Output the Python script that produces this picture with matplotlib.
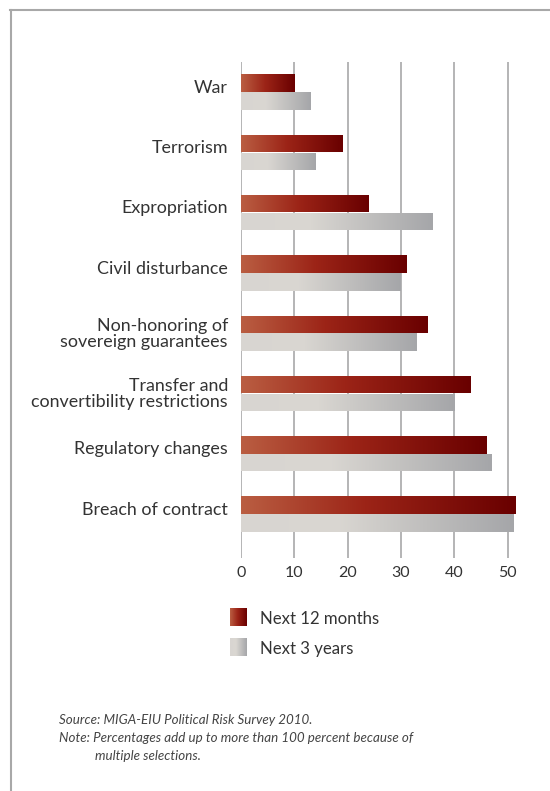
import numpy as np
import matplotlib
matplotlib.use("Agg")
import matplotlib.pyplot as plt
from matplotlib.colors import LinearSegmentedColormap
from matplotlib.lines import Line2D

categories = ["War", "Terrorism", "Expropriation", "Civil disturbance",
              "Non-honoring of\nsovereign guarantees",
              "Transfer and\nconvertibility restrictions",
              "Regulatory changes", "Breach of contract"]
next_12_months = [10, 19, 24, 31, 35, 43, 46, 51.5]
next_3_years = [13, 14, 36, 30, 33, 40, 47, 51.2]
series_names = ["Next 12 months", "Next 3 years"]
xticks = [0, 10, 20, 30, 40, 50]
source_text = "Source: MIGA-EIU Political Risk Survey 2010."
note_text1 = "Note: Percentages add up to more than 100 percent because of"
note_text2 = "multiple selections."

red_cmap = LinearSegmentedColormap.from_list(
    "red", [(0, "#ba5e42"), (0.45, "#9c2417"), (1, "#690000")])
grey_cmap = LinearSegmentedColormap.from_list(
    "grey", [(0, "#d8d5d1"), (0.35, "#dad7d2"), (1, "#a5a6a9")])

plt.rcParams['font.family'] = ['Lato', 'DejaVu Sans']
fig = plt.figure(figsize=(5.5, 7.91), dpi=100)

W, H = 550, 791
ax = fig.add_axes([241 / W, 1 - 558 / H, (52 * 5.33) / W, (558 - 62) / H])
ax.set_xlim(0, 52)
ax.set_ylim(7.73, -0.5)
for s in ax.spines.values():
    s.set_visible(False)

for xt in xticks:
    ax.axvline(xt, color="#b4b4b6", lw=1.4, zorder=0)

y = np.arange(len(categories))
h = 0.29
off = 0.148
grad = np.linspace(0, 1, 256).reshape(1, -1)

def grad_bars(vals, ys, cmap):
    bars = ax.barh(ys, vals, height=h, color="none", edgecolor="none", zorder=2)
    for b in bars:
        x0, y0 = b.get_x(), b.get_y()
        w, hh = b.get_width(), b.get_height()
        im = ax.imshow(grad, cmap=cmap, aspect="auto",
                       extent=(x0, x0 + w, y0 + hh, y0), zorder=2,
                       interpolation="bilinear")
        im.set_clip_path(b)
    return bars

grad_bars(next_12_months, y - off, red_cmap)
grad_bars(next_3_years, y + off, grey_cmap)
ax.set_xlim(0, 52)
ax.set_ylim(7.73, -0.5)

ax.set_xticks(xticks)
ax.set_xticklabels([str(t) for t in xticks], fontsize=11.5, color="#333333")
ax.tick_params(axis="x", length=0, pad=6)
ax.set_yticks([])

for i, c in enumerate(categories):
    if "\n" in c:
        yy = i + 0.01
    else:
        yy = i - off + 0.075
    ax.text(-0.047, yy, c, transform=ax.get_yaxis_transform(), ha="right",
            va="center", fontsize=12.9, color="#333333", linespacing=0.98)

# legend swatches
for k, (cmap, name) in enumerate(zip([red_cmap, grey_cmap], series_names)):
    ytop = 608 + k * 30
    sax = fig.add_axes([230 / W, 1 - (ytop + 18) / H, 17 / W, 18 / H])
    sax.imshow(grad, cmap=cmap, aspect="auto", interpolation="bilinear")
    sax.axis("off")
    fig.text(260 / W, 1 - (ytop + 11) / H, name, ha="left", va="center",
             fontsize=12.1, color="#333333")

fs = 9.6
fig.text(59 / W, 1 - 720 / H, source_text, ha="left", va="center",
         fontsize=fs, style="italic", color="#444444")
fig.text(59 / W, 1 - 738 / H, note_text1, ha="left", va="center",
         fontsize=fs, style="italic", color="#444444")
fig.text(95 / W, 1 - 756 / H, note_text2, ha="left", va="center",
         fontsize=fs, style="italic", color="#444444")

# frame lines
fig.add_artist(Line2D([11 / W, 11 / W], [1 - 10 / H, 0], color="#a8a8a8", lw=1.5))
fig.add_artist(Line2D([10 / W, 1], [1 - 10 / H, 1 - 10 / H], color="#a8a8a8", lw=1.5))

fig.savefig("out.png", dpi=100)
